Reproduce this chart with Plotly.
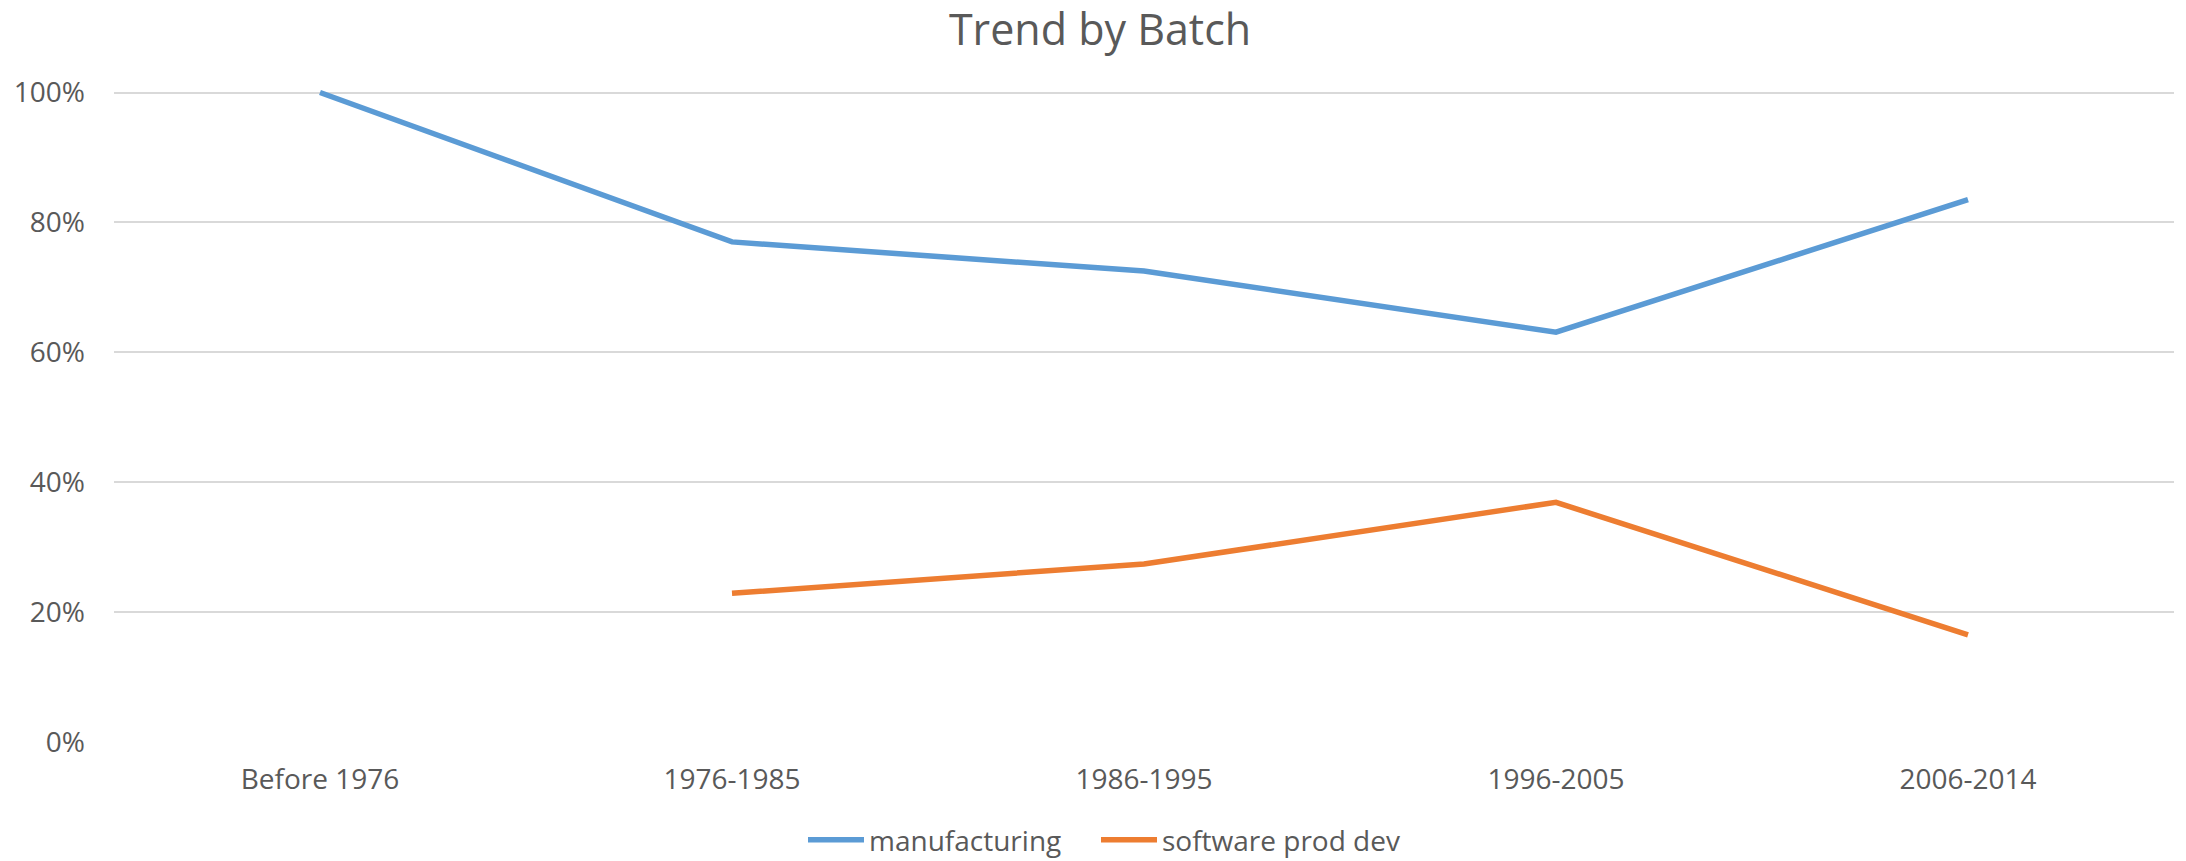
import plotly.graph_objects as go

categories = ["Before 1976", "1976-1985", "1986-1995", "1996-2005", "2006-2014"]
manufacturing = [1.00, 0.770, 0.725, 0.631, 0.835]
software_prod_dev = [None, 0.229, 0.274, 0.369, 0.165]
y_ticks = [0, 0.2, 0.4, 0.6, 0.8, 1.0]
y_tick_labels = ["0%", "20%", "40%", "60%", "80%", "100%"]

FONT = "Open Sans"
TXT = "#595959"

fig = go.Figure()
fig.add_trace(go.Scatter(x=categories, y=manufacturing, mode="lines", name="manufacturing",
                         line=dict(color="#5b9bd5", width=5.5), connectgaps=False,
                         legend="legend"))
fig.add_trace(go.Scatter(x=categories, y=software_prod_dev, mode="lines", name="software prod dev",
                         line=dict(color="#ed7d31", width=5.5), connectgaps=False,
                         legend="legend2"))

legend_common = dict(orientation="h", xref="container", yref="container", xanchor="left",
                     y=1 - 840/861, yanchor="middle",
                     font=dict(family=FONT, size=28, color=TXT), itemwidth=56,
                     bgcolor="rgba(0,0,0,0)")

fig.update_layout(
    width=2186, height=861,
    paper_bgcolor="white", plot_bgcolor="white",
    margin=dict(l=114, r=12, t=86, b=119, pad=0, autoexpand=False),
    font=dict(family=FONT, color=TXT, size=28),
    title=dict(text="Trend by Batch", x=1100/2186, xanchor="center", xref="container",
               y=1 - 30/861, yanchor="middle", yref="container",
               font=dict(family=FONT, size=43, color=TXT)),
    showlegend=True,
    legend=dict(x=803/2186, **legend_common),
    legend2=dict(x=1096/2186, **legend_common),
    xaxis=dict(type="category", categoryorder="array", categoryarray=categories,
               range=[-0.5, 4.5], showgrid=False, zeroline=False, showline=False,
               ticks="", ticklabelstandoff=18, tickfont=dict(family=FONT, size=28, color=TXT)),
    yaxis=dict(range=[0, 1.01], tickvals=y_ticks, ticktext=y_tick_labels,
               showgrid=True, gridcolor="#d9d9d9", gridwidth=1.5, zeroline=False,
               showline=False, ticks="", ticklabelstandoff=28,
               tickfont=dict(family=FONT, size=28, color=TXT)),
)

fig.write_html("out.html", config={"displayModeBar": False},
               post_script="document.body.style.margin='0';document.body.style.overflow='hidden';")
